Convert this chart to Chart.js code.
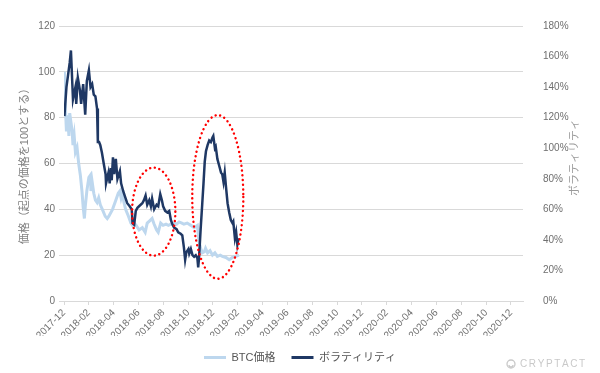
<!DOCTYPE html>
<html><head><meta charset="utf-8">
<script src="https://cdn.jsdelivr.net/npm/chart.js@4/dist/chart.umd.min.js"></script>
<style>html,body{margin:0;padding:0;background:#fff;}#wrap{width:600px;height:373px;}</style>
</head><body><div id="wrap"><canvas id="c" width="600" height="373"></canvas></div>
<script>
// ---- data ----
const tickLabels = ['2017-12','2018-02','2018-04','2018-06','2018-08','2018-10','2018-12',
  '2019-02','2019-04','2019-06','2019-08','2019-10','2019-12',
  '2020-02','2020-04','2020-06','2020-08','2020-10','2020-12'];
const seriesNames = ['BTC価格', 'ボラティリティ'];
const leftTitle = '価格（起点の価格を100とする）';
const rightTitle = 'ボラティリティ';

// days since the start of the series
const btcDays = [1,3,6,9,12,14,17,20,22,25,28,32,36,40,44,47,50,52,56,61,65,66,69,73,77,81,85,89,94,101,106,110,119,127,133,137,140,143,147,151,158,164,168,172,177,184,192,199,204,210,216,221,227,231,237,243,250,256,262,270,276,282,289,294,302,311,319,327,331,335,339,344,347,352,358,364,370,376,383,388,397,405,413,421,429];
const btcPrice = [100,86,74,81,72,82,78,74,68,72,65,67,60,55,48,41,36,41,48,54,55,48,52,47,44,43,45,42,40,37,36,37,40,44,47,48,45,47,43,40,37,34,33,34,33,31,32,30,34,35,36,33.5,31,30,34,33,33.5,33,33.5,34,33.5,34.5,34,33.5,34,33,32,33,26,23,21,21.5,23,21,22,20,21,19.5,20,19.5,19,18,19,19.5,20];

const volDays = [1,6,10,14,17,22,28,30,34,39,42,47,52,56,61,65,69,73,77,81,83,86,89,93,98,102,103,109,112,115,117,120,123,127,131,137,140,145,150,155,161,166,168,172,176,180,184,192,196,200,204,209,213,216,221,227,231,236,240,243,248,253,258,262,266,270,276,280,286,290,294,297,300,305,307,311,315,319,323,327,329,331,335,339,342,345,348,352,356,360,364,366,370,372,376,380,385,388,391,394,397,401,405,409,413,415,419,422,425,428];
const volValues = [121,140,148,156,164,132,140,129,146,138,129,142,122,144,151,140,142,135,134,126,104,104,102,97,89,83,77,84,77,87,79,94,83,93,80,85,77,72,68,64,62,60,51,50,59,61,62,64,66,69,63,66,62,67,60,63,62,70,66,62,59,58,59,53,50,48,47,45,44,43,35,27,32,34,31,34,30,29,30,28,22,28,47,64,77,91,98,102,105,104,107,108,100,101,93,89,84,83,78,84,75,64,58,53,51,52,41,45,37,41];

// highlighted regions (data coordinates: days / price scale)
const highlights = [
  {cx: 220, cy: 39, rx: 53, ry: 19.2},
  {cx: 377, cy: 45.4, rx: 62.6, ry: 35.7}
];

const FONT = "'Liberation Sans','Noto Sans CJK JP',sans-serif";
const GRAY = '#6f6f6f';
const DAYS_PER_TICK = 365.25 / 6;

const ellipsePlugin = {
  id: 'ellipses',
  afterDatasetsDraw(chart) {
    const {ctx, scales: {x, y}} = chart;
    ctx.save();
    ctx.strokeStyle = '#ff0000';
    ctx.lineWidth = 2.4;
    ctx.lineCap = 'round';
    ctx.setLineDash([0.1, 4.6]);
    highlights.forEach(h => {
      const cx = x.getPixelForValue(h.cx), cy = y.getPixelForValue(h.cy);
      const rx = Math.abs(x.getPixelForValue(h.cx + h.rx) - cx);
      const ry = Math.abs(y.getPixelForValue(h.cy + h.ry) - cy);
      ctx.beginPath();
      ctx.ellipse(cx, cy, rx, ry, 0, 0, Math.PI * 2);
      ctx.stroke();
    });
    ctx.restore();
  }
};

const extrasPlugin = {
  id: 'extras',
  afterDraw(chart) {
    const {ctx, chartArea} = chart;
    ctx.save();
    // right axis title, reading bottom to top
    ctx.translate(575, (chartArea.top + chartArea.bottom) / 2 - 6);
    ctx.rotate(-Math.PI / 2);
    ctx.fillStyle = '#9a9a9a';
    ctx.font = '11px ' + FONT;
    ctx.textAlign = 'center';
    ctx.textBaseline = 'middle';
    ctx.fillText(rightTitle, 0, 0);
    ctx.restore();
    // logo
    ctx.save();
    ctx.strokeStyle = '#c9c9c9';
    ctx.fillStyle = '#c9c9c9';
    ctx.lineWidth = 1.3;
    ctx.beginPath();
    ctx.arc(511, 364, 4, 0, Math.PI * 2);
    ctx.stroke();
    ctx.beginPath();
    ctx.arc(511, 365, 2, 0, Math.PI);
    ctx.stroke();
    ctx.font = '10px ' + FONT;
    ctx.textBaseline = 'middle';
    let xx = 520;
    for (const ch of 'CRYPTACT') {
      ctx.fillText(ch, xx, 364.5);
      xx += ctx.measureText(ch).width + 1.6;
    }
    ctx.restore();
  }
};

new Chart(document.getElementById('c'), {
  type: 'line',
  data: {
    datasets: [
      {
        label: seriesNames[0],
        data: btcDays.map((d, i) => ({x: d, y: btcPrice[i]})),
        borderColor: '#bdd7ee',
        backgroundColor: '#bdd7ee',
        borderWidth: 3,
        pointRadius: 0,
        tension: 0,
        yAxisID: 'y',
        order: 1
      },
      {
        label: seriesNames[1],
        data: volDays.map((d, i) => ({x: d, y: volValues[i]})),
        borderColor: '#1f3864',
        backgroundColor: '#1f3864',
        borderWidth: 2.5,
        pointRadius: 0,
        tension: 0,
        yAxisID: 'y1',
        order: 0
      }
    ]
  },
  options: {
    responsive: false,
    animation: false,
    devicePixelRatio: 1,
    layout: {padding: {top: 17, left: 0, right: 0, bottom: 0}},
    plugins: {
      tooltip: {enabled: false},
      legend: {
        position: 'bottom',
        labels: {
          color: '#555',
          font: {size: 11, family: FONT},
          boxWidth: 22,
          boxHeight: 3,
          padding: 16,
          sort: (a, b) => a.datasetIndex - b.datasetIndex,
          generateLabels: (chart) => Chart.defaults.plugins.legend.labels.generateLabels(chart)
            .map(l => Object.assign(l, {fillStyle: l.strokeStyle, lineWidth: 0}))
        }
      }
    },
    scales: {
      x: {
        type: 'linear',
        min: 0,
        max: 18 * DAYS_PER_TICK + 29.5,
        afterBuildTicks: s => { s.ticks = tickLabels.map((_, i) => ({value: i * DAYS_PER_TICK})); },
        afterFit: s => { s.height = 35; },
        ticks: {
          autoSkip: false,
          maxRotation: 45,
          minRotation: 45,
          padding: 2,
          color: GRAY,
          font: {size: 10, family: FONT},
          callback: (v, i) => tickLabels[i]
        },
        grid: {display: true, drawOnChartArea: false, drawTicks: true, tickLength: 4, color: '#d9d9d9'},
        border: {display: true, color: '#d9d9d9'}
      },
      y: {
        position: 'left',
        min: 0,
        max: 120,
        afterFit: s => { s.width = 64; },
        ticks: {stepSize: 20, color: GRAY, padding: 4, font: {size: 10, family: FONT}},
        grid: {color: '#d9d9d9', tickLength: 5},
        border: {display: false},
        title: {display: true, text: leftTitle, color: '#808080', padding: {top: 18}, font: {size: 11, family: FONT}}
      },
      y1: {
        position: 'right',
        min: 0,
        max: 180,
        afterFit: s => { s.width = 77; },
        ticks: {stepSize: 20, color: GRAY, padding: 20, font: {size: 10, family: FONT}, callback: v => v + '%'},
        grid: {display: false, drawTicks: false},
        border: {display: false}
      }
    }
  },
  plugins: [ellipsePlugin, extrasPlugin]
});
</script></body></html>
